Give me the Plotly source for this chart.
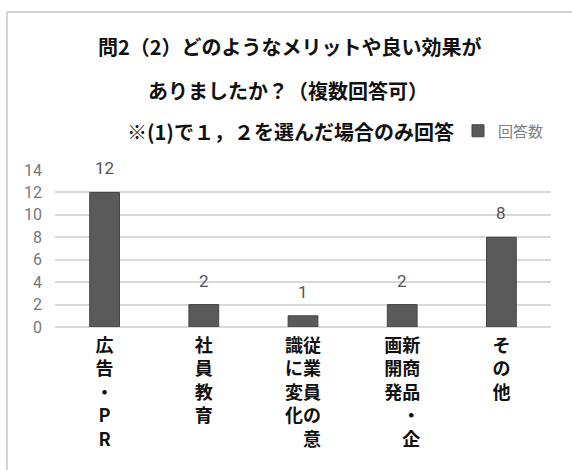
import plotly.graph_objects as go

categories = ["広告・PR", "社員教育", "従業員の意識に変化", "新商品・企画開発", "その他"]
tick_labels = [
    "広<br>告<br>・<br>P<br>R",
    "社<br>員<br>教<br>育",
    "識従<br>に業<br>変員<br>化の<br>　意",
    "画新<br>開商<br>発品<br>　・<br>　企",
    "そ<br>の<br>他",
]
values = [12, 2, 1, 2, 8]
series_name = "回答数"
title_lines = [
    "問2（2）どのようなメリットや良い効果が",
    "ありましたか？（複数回答可）",
    "※(1)で１，２を選んだ場合のみ回答",
]
y_ticks = [0, 2, 4, 6, 8, 10, 12, 14]

NARROW = "Roboto, sans-serif"
CJK = "Noto Sans CJK JP, sans-serif"

fig = go.Figure()
fig.add_trace(go.Bar(
    x=categories, y=values, name=series_name,
    marker=dict(color="#5a5a5a", line=dict(color="#444444", width=1)),
    showlegend=True,
))

for c, v in zip(categories, values):
    fig.add_annotation(x=c, y=v, xref="x", yref="y", text=str(v), showarrow=False,
                       yshift=24, yanchor="middle",
                       font=dict(family=NARROW, size=17, color="#555555"))

L, R, T, B = 55, 21, 170, 143
W, H = 572, 470
pw, ph = W - L - R, H - T - B
def px_to_paper_x(px): return (px - L) / pw
def py_to_paper_y(py): return (H - B - py) / ph

for line, yc, xc in zip(title_lines, [47, 91, 131], [290, 288, 290]):
    fig.add_annotation(x=px_to_paper_x(xc), y=py_to_paper_y(yc), xref="paper", yref="paper",
                       text=f"<b>{line}</b>", showarrow=False, xanchor="center", yanchor="middle",
                       font=dict(family=CJK, size=20, color="#111111"))

fig.add_shape(type="line", xref="paper", yref="paper",
              x0=px_to_paper_x(7), x1=px_to_paper_x(572), y0=py_to_paper_y(12), y1=py_to_paper_y(12),
              line=dict(color="#d4d4d4", width=2))
fig.add_shape(type="line", xref="paper", yref="paper",
              x0=px_to_paper_x(7), x1=px_to_paper_x(7), y0=py_to_paper_y(12), y1=py_to_paper_y(470),
              line=dict(color="#d4d4d4", width=2))

fig.update_layout(
    width=W, height=H,
    margin=dict(l=L, r=R, t=T, b=B, pad=0),
    paper_bgcolor="white", plot_bgcolor="white",
    bargap=0.7,
    showlegend=True,
    legend=dict(x=px_to_paper_x(458), y=py_to_paper_y(131), xanchor="left", yanchor="middle",
                font=dict(family=CJK, size=15, color="#808080"),
                bgcolor="rgba(0,0,0,0)", itemwidth=30, tracegroupgap=0),
    xaxis=dict(tickmode="array", tickvals=categories,
               ticktext=[f"<b>{t}</b>" for t in tick_labels],
               tickfont=dict(family=CJK, size=18, color="#111111"),
               showgrid=False, showline=False, ticks="", ticklabelstandoff=6,
               fixedrange=True),
    yaxis=dict(range=[0, 14], tickmode="array", tickvals=y_ticks,
               tickfont=dict(family=NARROW, size=16, color="#777777"),
               showgrid=True, gridcolor="#d9d9d9", gridwidth=2,
               zeroline=True, zerolinecolor="#d9d9d9", zerolinewidth=2,
               showline=False, ticks="", ticklabelstandoff=12, fixedrange=True),
)

fig.write_html("out.html")
